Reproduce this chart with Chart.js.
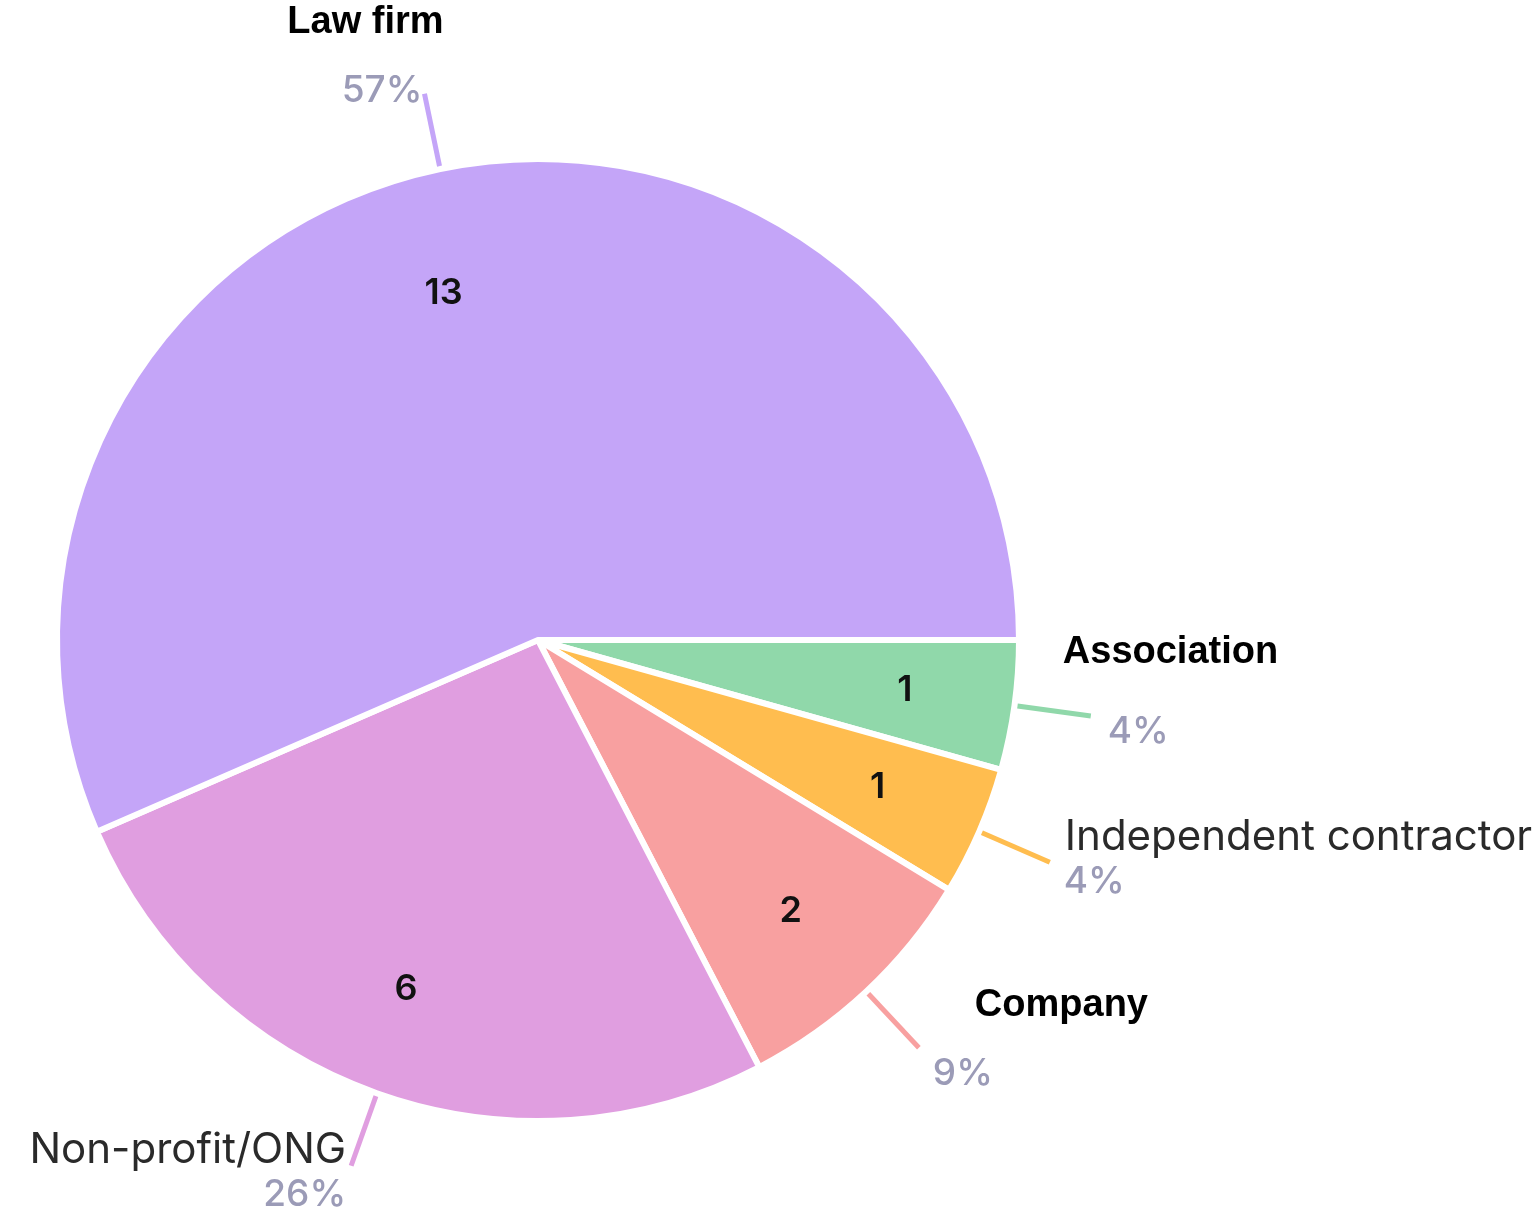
<!DOCTYPE html>
<html>
<head>
<meta charset="utf-8">
<script src="https://cdn.jsdelivr.net/npm/chart.js@4"></script>
<style>
  html, body { margin: 0; padding: 0; background: #fff; }
  #wrap { width: 1537px; height: 1210px; }
</style>
</head>
<body>
<div id="wrap"><canvas id="chartPie" width="1537" height="1210"></canvas></div>
<script>
// slices, clockwise from 3 o'clock
const labels  = ['Association', 'Independent contractor', 'Company', 'Non-profit/ONG', 'Law firm'];
const counts  = [1, 1, 2, 6, 13];
const percents = ['4%', '4%', '9%', '26%', '57%'];
const colors  = ['#90D8AA', '#FFBD4F', '#F8A0A0', '#E09EE0', '#C4A5F8'];

// how each label sits around the end of its leader line (inner = nudge of the value)
const labelStyle = {
  'Association':            { bold: true,  name: [-28, -63, 'left'],  pct: [17, 16, 'left'],  inner: [0, 0] },
  'Independent contractor': { bold: false, name: [15, -25, 'left'],   pct: [14, 20, 'left'],  inner: [0, 0] },
  'Company':                { bold: true,  name: [56, -42, 'left'],   pct: [14, 26, 'left'],  inner: [0, 0] },
  'Non-profit/ONG':         { bold: false, name: [-5, -15, 'right'],  pct: [-5, 29, 'right'], inner: [-8, 0] },
  'Law firm':               { bold: true,  name: [-59, -71, 'center'], pct: [-2, -3, 'right'], inner: [-19, 16] },
};

const pieLabels = {
  id: 'pieLabels',
  afterDatasetsDraw(chart) {
    const ctx = chart.ctx;
    const arcs = chart.getDatasetMeta(0).data;
    arcs.forEach((arc, i) => {
      const { x, y, startAngle, endAngle, outerRadius } = arc.getProps(['x', 'y', 'startAngle', 'endAngle', 'outerRadius'], true);
      const mid = (startAngle + endAngle) / 2;
      const cos = Math.cos(mid), sin = Math.sin(mid);
      const st = labelStyle[labels[i]];

      // value inside the slice
      ctx.save();
      ctx.fillStyle = '#111';
      ctx.font = '600 36px Inter';
      ctx.textAlign = 'center';
      ctx.textBaseline = 'middle';
      const ri = outerRadius * 0.77;
      ctx.fillText(String(counts[i]), x + cos * ri + st.inner[0], y + sin * ri + st.inner[1]);

      // leader line
      const r0 = outerRadius + 3, r1 = outerRadius + 77;
      const ex = x + cos * r1, ey = y + sin * r1;
      ctx.strokeStyle = colors[i];
      ctx.lineWidth = 5;
      ctx.beginPath();
      ctx.moveTo(x + cos * r0, y + sin * r0);
      ctx.lineTo(ex, ey);
      ctx.stroke();

      // name + percent
      ctx.textBaseline = 'middle';
      ctx.font = st.bold ? 'bold 38px "Liberation Sans"' : '400 42px Inter';
      ctx.fillStyle = st.bold ? '#000' : '#2a2a2a';
      ctx.textAlign = st.name[2];
      ctx.fillText(labels[i], ex + st.name[0], ey + st.name[1]);

      ctx.font = '500 37px Inter';
      ctx.fillStyle = '#9B9BB7';
      ctx.textAlign = st.pct[2];
      ctx.fillText(percents[i], ex + st.pct[0], ey + st.pct[1]);
      ctx.restore();
    });
  }
};

new Chart(document.getElementById('chartPie').getContext('2d'), {
  type: 'pie',
  data: {
    labels: labels,
    datasets: [{
      data: counts,
      backgroundColor: colors,
      borderColor: '#fff',
      borderWidth: 6
    }]
  },
  options: {
    responsive: false,
    animation: false,
    rotation: 90,
    layout: { padding: { left: 54, right: 515, top: 156, bottom: 86 } },
    plugins: { legend: { display: false }, tooltip: { enabled: false } }
  },
  plugins: [pieLabels]
});
</script>
</body>
</html>
